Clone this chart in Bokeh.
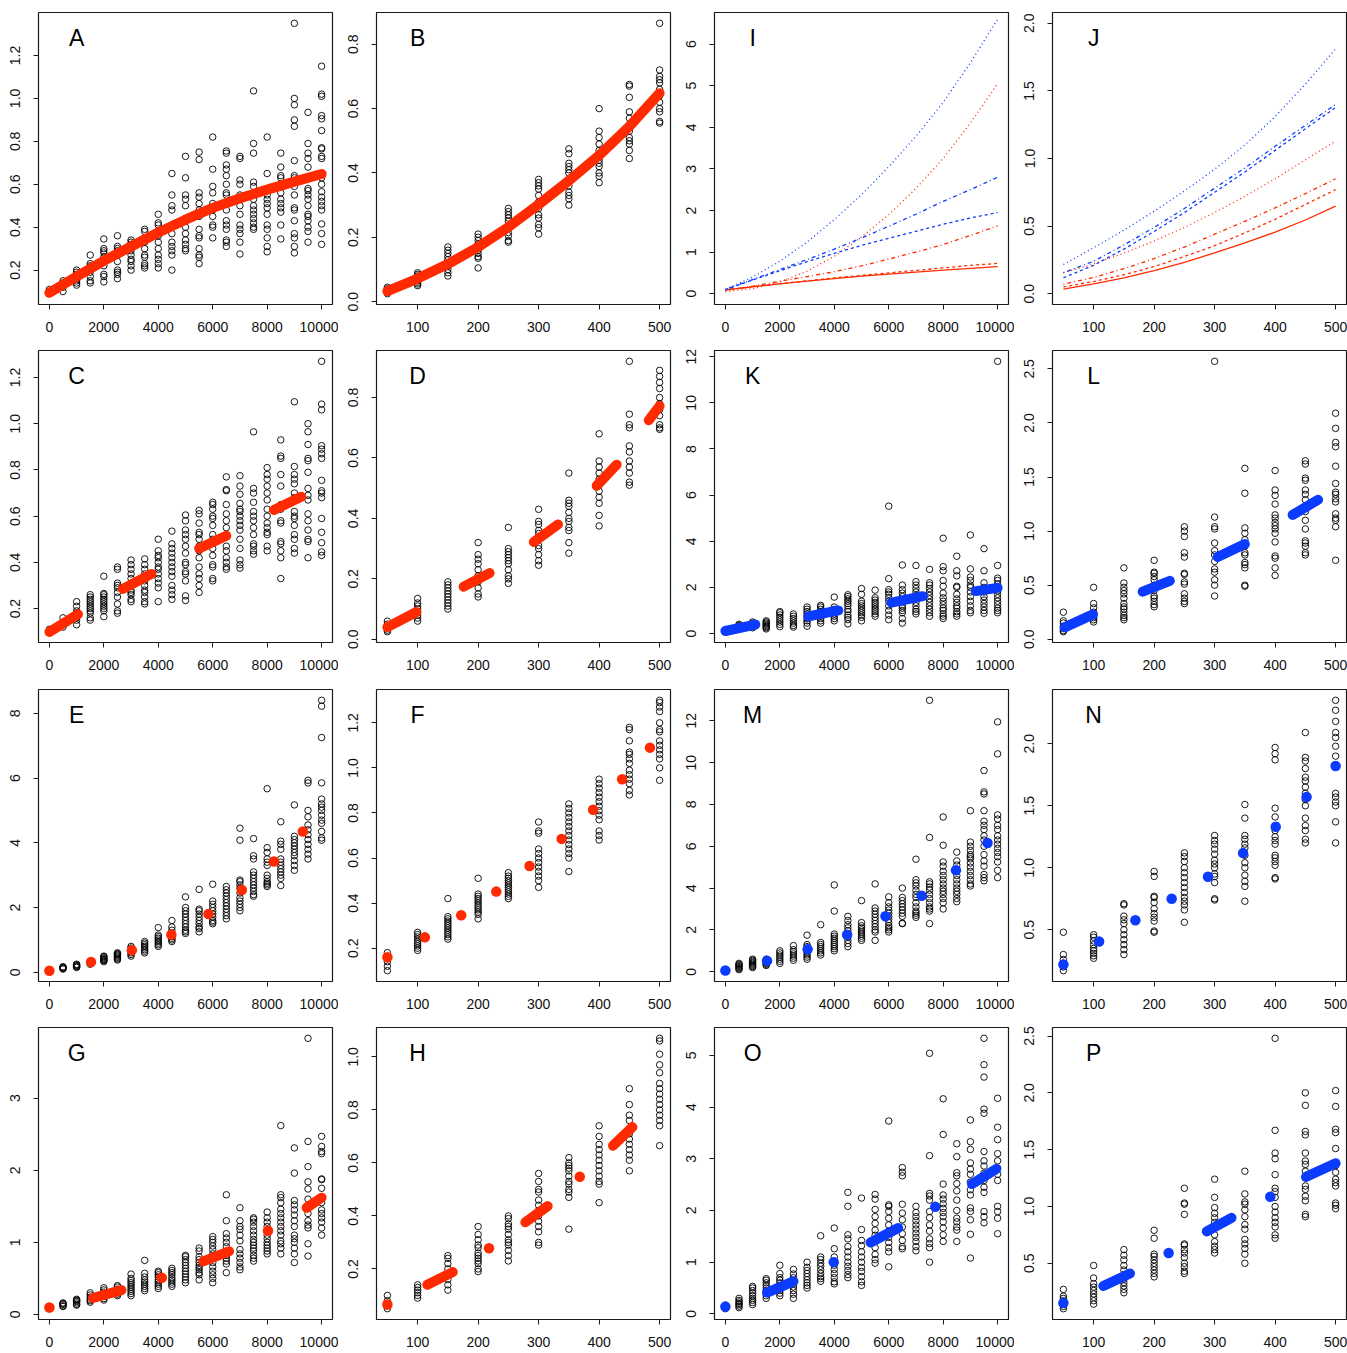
from bokeh.plotting import figure
from bokeh.layouts import gridplot
from bokeh.models import Label, FixedTicker, NumeralTickFormatter, Range1d
from bokeh.embed import file_html
from bokeh.resources import INLINE

FONT = "Liberation Sans"
RED = "#FF2A00"
BLUE = "#0B3BFF"

# ---------------------------------------------------------------- x groups
X_LONG = [0, 500, 1000, 1500, 2000, 2500, 3000, 3500, 4000, 4500, 5000,
          5500, 6000, 6500, 7000, 7500, 8000, 8500, 9000, 9500, 10000]
X_SHORT = [50, 100, 150, 200, 250, 300, 350, 400, 450, 500]
XTICKS_LONG = [0, 2000, 4000, 6000, 8000, 10000]
XTICKS_SHORT = [100, 200, 300, 400, 500]

# ---------------------------------------------------------------- panel A
A_PTS = [
    [0.09, 0.10, 0.11],
    [0.10, 0.12, 0.13, 0.14, 0.15],
    [0.13, 0.14, 0.15, 0.16, 0.17, 0.18, 0.19, 0.20],
    [0.14, 0.15, 0.17, 0.19, 0.21, 0.22, 0.23, 0.27],
    [0.145, 0.17, 0.18, 0.22, 0.24, 0.26, 0.28, 0.29, 0.30, 0.345],
    [0.16, 0.18, 0.19, 0.20, 0.24, 0.27, 0.29, 0.30, 0.31, 0.36],
    [0.20, 0.22, 0.24, 0.25, 0.27, 0.29, 0.30, 0.32, 0.33, 0.34],
    [0.21, 0.22, 0.23, 0.26, 0.27, 0.30, 0.33, 0.35, 0.38, 0.39],
    [0.21, 0.23, 0.25, 0.27, 0.30, 0.33, 0.36, 0.41, 0.42, 0.46],
    [0.20, 0.27, 0.29, 0.31, 0.33, 0.37, 0.40, 0.41, 0.48, 0.50, 0.55, 0.65],
    [0.29, 0.30, 0.32, 0.34, 0.37, 0.40, 0.44, 0.50, 0.53, 0.55, 0.63, 0.73],
    [0.23, 0.26, 0.27, 0.30, 0.35, 0.36, 0.39, 0.45, 0.48, 0.51, 0.54, 0.56, 0.715, 0.75],
    [0.35, 0.40, 0.41, 0.45, 0.48, 0.51, 0.56, 0.59, 0.67, 0.82],
    [0.31, 0.33, 0.34, 0.39, 0.41, 0.43, 0.48, 0.51, 0.55, 0.56, 0.60, 0.64, 0.67, 0.69, 0.745, 0.755],
    [0.275, 0.33, 0.37, 0.39, 0.41, 0.46, 0.50, 0.54, 0.55, 0.60, 0.62, 0.72, 0.73],
    [0.39, 0.40, 0.42, 0.44, 0.46, 0.48, 0.50, 0.53, 0.56, 0.59, 0.61, 0.745, 0.79, 1.035],
    [0.285, 0.31, 0.35, 0.39, 0.41, 0.46, 0.49, 0.51, 0.53, 0.55, 0.65, 0.82],
    [0.345, 0.41, 0.47, 0.49, 0.51, 0.53, 0.56, 0.60, 0.63, 0.64, 0.68, 0.745],
    [0.28, 0.31, 0.35, 0.37, 0.43, 0.48, 0.49, 0.55, 0.59, 0.63, 0.64, 0.71, 0.87, 0.90, 0.97, 1.0, 1.35],
    [0.33, 0.38, 0.40, 0.43, 0.45, 0.46, 0.50, 0.53, 0.55, 0.57, 0.58, 0.63, 0.68, 0.72, 0.745, 0.79, 0.935],
    [0.32, 0.37, 0.415, 0.48, 0.50, 0.52, 0.54, 0.565, 0.60, 0.63, 0.72, 0.73, 0.765, 0.77, 0.85, 0.905, 0.92, 1.01, 1.02, 1.15],
]
A_FIT_X = [0, 1000, 2000, 3000, 4000, 5000, 6000, 7000, 8000, 9000, 10000]
A_FIT_Y = [0.094, 0.170, 0.243, 0.310, 0.375, 0.435, 0.490, 0.535, 0.575, 0.612, 0.648]
A_YTICKS = [0.2, 0.4, 0.6, 0.8, 1.0, 1.2]

# ---------------------------------------------------------------- panel B
B_PTS = [
    [0.025, 0.03, 0.035, 0.04, 0.045],
    [0.05, 0.055, 0.06, 0.065, 0.07, 0.075, 0.08, 0.085, 0.09],
    [0.08, 0.09, 0.10, 0.11, 0.12, 0.13, 0.14, 0.15, 0.16, 0.17],
    [0.105, 0.135, 0.14, 0.15, 0.16, 0.17, 0.18, 0.19, 0.20, 0.21],
    [0.185, 0.19, 0.205, 0.215, 0.23, 0.25, 0.26, 0.27, 0.28, 0.29],
    [0.21, 0.23, 0.24, 0.26, 0.27, 0.29, 0.31, 0.33, 0.35, 0.36, 0.37, 0.38],
    [0.30, 0.32, 0.33, 0.34, 0.36, 0.38, 0.40, 0.41, 0.42, 0.43, 0.46, 0.475],
    [0.37, 0.39, 0.40, 0.42, 0.43, 0.44, 0.45, 0.47, 0.49, 0.51, 0.53, 0.60],
    [0.445, 0.47, 0.49, 0.50, 0.51, 0.53, 0.55, 0.57, 0.59, 0.635, 0.67, 0.675],
    [0.555, 0.56, 0.59, 0.60, 0.62, 0.64, 0.66, 0.68, 0.69, 0.70, 0.72, 0.865],
]
B_FIT_X = [50, 100, 150, 200, 250, 300, 350, 400, 450, 500]
B_FIT_Y = [0.033, 0.072, 0.117, 0.170, 0.232, 0.302, 0.376, 0.455, 0.545, 0.648]
B_YTICKS = [0.0, 0.2, 0.4, 0.6, 0.8]

# ---------------------------------------------------------------- panel C
C_PTS = [
    [0.10, 0.11],
    [0.12, 0.14, 0.16],
    [0.13, 0.15, 0.16, 0.18, 0.19, 0.21, 0.23],
    [0.15, 0.16, 0.18, 0.19, 0.20, 0.21, 0.22, 0.23, 0.24, 0.25, 0.26],
    [0.165, 0.19, 0.20, 0.21, 0.22, 0.23, 0.24, 0.25, 0.26, 0.265, 0.34],
    [0.18, 0.19, 0.22, 0.25, 0.27, 0.29, 0.30, 0.31, 0.37, 0.38],
    [0.23, 0.24, 0.26, 0.27, 0.28, 0.30, 0.31, 0.33, 0.35, 0.37, 0.39, 0.41],
    [0.22, 0.23, 0.25, 0.27, 0.28, 0.30, 0.32, 0.33, 0.35, 0.37, 0.39, 0.415],
    [0.23, 0.29, 0.31, 0.33, 0.35, 0.37, 0.38, 0.40, 0.42, 0.43, 0.45, 0.50],
    [0.24, 0.26, 0.28, 0.30, 0.34, 0.36, 0.38, 0.40, 0.42, 0.44, 0.46, 0.48, 0.535],
    [0.235, 0.255, 0.32, 0.35, 0.36, 0.39, 0.40, 0.44, 0.47, 0.50, 0.52, 0.54, 0.58, 0.605],
    [0.27, 0.30, 0.33, 0.35, 0.38, 0.42, 0.45, 0.47, 0.50, 0.52, 0.53, 0.57, 0.61, 0.625],
    [0.32, 0.33, 0.38, 0.39, 0.43, 0.46, 0.50, 0.52, 0.56, 0.59, 0.60, 0.63, 0.65, 0.66],
    [0.37, 0.38, 0.40, 0.42, 0.45, 0.47, 0.51, 0.55, 0.58, 0.61, 0.65, 0.71, 0.715, 0.77],
    [0.375, 0.39, 0.41, 0.46, 0.50, 0.54, 0.56, 0.58, 0.60, 0.62, 0.63, 0.655, 0.695, 0.73, 0.775],
    [0.435, 0.45, 0.47, 0.48, 0.52, 0.55, 0.58, 0.60, 0.62, 0.66, 0.70, 0.72, 0.965],
    [0.45, 0.47, 0.52, 0.53, 0.55, 0.57, 0.60, 0.63, 0.67, 0.70, 0.73, 0.76, 0.78, 0.81],
    [0.33, 0.42, 0.45, 0.48, 0.49, 0.57, 0.58, 0.63, 0.65, 0.73, 0.78, 0.85, 0.86, 0.93],
    [0.44, 0.46, 0.50, 0.52, 0.56, 0.59, 0.60, 0.62, 0.68, 0.70, 0.74, 0.76, 0.78, 0.815, 1.095],
    [0.42, 0.49, 0.50, 0.54, 0.58, 0.61, 0.67, 0.69, 0.72, 0.79, 0.84, 0.85, 0.91, 0.965, 1.0],
    [0.43, 0.445, 0.485, 0.53, 0.59, 0.68, 0.70, 0.71, 0.755, 0.85, 0.87, 0.89, 0.905, 1.06, 1.085, 1.27],
]
C_SEGS = [(0, 1050, 0.099, 0.175), (2700, 3750, 0.285, 0.350),
          (5500, 6500, 0.460, 0.515), (8250, 9250, 0.627, 0.684)]
C_YTICKS = [0.2, 0.4, 0.6, 0.8, 1.0, 1.2]

# ---------------------------------------------------------------- panel D
D_PTS = [
    [0.025, 0.03, 0.04, 0.05, 0.06],
    [0.06, 0.07, 0.08, 0.09, 0.10, 0.11, 0.12, 0.135],
    [0.10, 0.11, 0.12, 0.13, 0.14, 0.15, 0.16, 0.17, 0.18, 0.19],
    [0.14, 0.15, 0.17, 0.19, 0.21, 0.23, 0.25, 0.265, 0.28, 0.32],
    [0.185, 0.20, 0.21, 0.23, 0.25, 0.26, 0.27, 0.28, 0.29, 0.30, 0.37],
    [0.245, 0.26, 0.28, 0.30, 0.31, 0.33, 0.35, 0.36, 0.38, 0.39, 0.43],
    [0.285, 0.32, 0.36, 0.37, 0.39, 0.40, 0.42, 0.44, 0.45, 0.46, 0.55],
    [0.375, 0.41, 0.45, 0.47, 0.49, 0.51, 0.53, 0.55, 0.57, 0.59, 0.68],
    [0.51, 0.52, 0.55, 0.57, 0.59, 0.62, 0.64, 0.70, 0.71, 0.745, 0.92],
    [0.695, 0.70, 0.71, 0.74, 0.76, 0.78, 0.80, 0.83, 0.85, 0.87, 0.89],
]
D_SEGS = [(50, 98, 0.040, 0.090), (176, 219, 0.174, 0.219),
          (292, 332, 0.322, 0.380), (396, 429, 0.508, 0.578), (482, 500, 0.725, 0.772)]
D_YTICKS = [0.0, 0.2, 0.4, 0.6, 0.8]

# ---------------------------------------------------------------- panel E
E_PTS = [
    [0.05, 0.07],
    [0.10, 0.12, 0.14, 0.16, 0.17],
    [0.15, 0.17, 0.19, 0.21, 0.23, 0.25],
    [0.25, 0.28, 0.30, 0.33],
    [0.33, 0.36, 0.38, 0.40, 0.42, 0.45, 0.48, 0.50],
    [0.38, 0.41, 0.44, 0.47, 0.50, 0.53, 0.55, 0.58, 0.60],
    [0.50, 0.55, 0.60, 0.65, 0.70, 0.75, 0.80],
    [0.60, 0.65, 0.70, 0.75, 0.80, 0.85, 0.90, 0.95],
    [0.80, 0.85, 0.90, 0.95, 1.00, 1.05, 1.10, 1.15, 1.38],
    [0.95, 1.00, 1.05, 1.10, 1.20, 1.30, 1.40, 1.60],
    [1.20, 1.25, 1.30, 1.40, 1.50, 1.60, 1.70, 1.80, 1.90, 2.00, 2.33],
    [1.25, 1.35, 1.40, 1.50, 1.60, 1.70, 1.80, 1.90, 1.95, 2.56],
    [1.50, 1.55, 1.60, 1.70, 1.80, 1.90, 2.00, 2.10, 2.20, 2.72],
    [1.65, 1.75, 1.85, 1.95, 2.05, 2.15, 2.25, 2.35, 2.45, 2.55, 2.65],
    [1.90, 2.00, 2.10, 2.20, 2.30, 2.45, 2.60, 2.70, 2.80, 2.85, 4.08, 4.45],
    [2.35, 2.40, 2.50, 2.60, 2.70, 2.80, 2.90, 3.00, 3.10, 3.50, 3.60, 4.13],
    [2.65, 2.70, 2.75, 2.80, 2.90, 3.00, 3.30, 3.40, 3.50, 3.70, 3.85, 5.67],
    [2.68, 2.90, 3.00, 3.10, 3.20, 3.30, 3.40, 3.50, 3.80, 3.95, 4.05, 4.65],
    [3.15, 3.30, 3.45, 3.60, 3.70, 3.80, 3.90, 4.00, 4.10, 4.20, 5.17],
    [3.50, 3.65, 3.80, 3.95, 4.10, 4.25, 4.40, 4.55, 4.80, 5.00, 5.85, 5.93],
    [4.08, 4.15, 4.35, 4.60, 4.70, 4.85, 5.00, 5.10, 5.20, 5.35, 5.85, 7.25, 8.22, 8.40],
]
E_DOTS_X = [0, 1530, 3030, 4480, 5840, 7070, 8250, 9310]
E_DOTS_Y = [0.05, 0.32, 0.68, 1.16, 1.80, 2.54, 3.42, 4.35]
E_YTICKS = [0, 2, 4, 6, 8]

# ---------------------------------------------------------------- panel F
F_PTS = [
    [0.10, 0.12, 0.14, 0.16, 0.18],
    [0.19, 0.20, 0.21, 0.22, 0.23, 0.24, 0.25, 0.26, 0.27],
    [0.24, 0.25, 0.26, 0.27, 0.28, 0.29, 0.30, 0.31, 0.32, 0.33, 0.34, 0.42],
    [0.33, 0.35, 0.36, 0.37, 0.38, 0.39, 0.40, 0.41, 0.42, 0.43, 0.44, 0.51],
    [0.42, 0.43, 0.44, 0.45, 0.46, 0.47, 0.48, 0.49, 0.50, 0.51, 0.52, 0.535],
    [0.47, 0.50, 0.52, 0.54, 0.56, 0.58, 0.60, 0.62, 0.64, 0.71, 0.72, 0.76],
    [0.54, 0.60, 0.62, 0.64, 0.66, 0.68, 0.70, 0.72, 0.74, 0.76, 0.78, 0.80, 0.82, 0.84],
    [0.68, 0.70, 0.72, 0.77, 0.79, 0.81, 0.83, 0.85, 0.87, 0.89, 0.91, 0.93, 0.95],
    [0.88, 0.90, 0.93, 0.95, 0.97, 0.99, 1.02, 1.04, 1.06, 1.07, 1.12, 1.17, 1.18],
    [0.945, 1.00, 1.04, 1.06, 1.08, 1.10, 1.12, 1.16, 1.17, 1.20, 1.25, 1.27, 1.29, 1.30],
]
F_DOTS_X = [50, 112, 172, 230, 285, 338, 390, 438, 484]
F_DOTS_Y = [0.160, 0.248, 0.346, 0.451, 0.565, 0.685, 0.814, 0.950, 1.090]
F_YTICKS = [0.2, 0.4, 0.6, 0.8, 1.0, 1.2]

# ---------------------------------------------------------------- panel G
G_PTS = [
    [0.08, 0.10, 0.11],
    [0.11, 0.12, 0.14, 0.15, 0.16],
    [0.13, 0.14, 0.16, 0.18, 0.19, 0.20, 0.21],
    [0.17, 0.19, 0.21, 0.24, 0.27, 0.30],
    [0.20, 0.22, 0.25, 0.28, 0.31, 0.34, 0.37],
    [0.26, 0.28, 0.30, 0.32, 0.35, 0.38, 0.40],
    [0.26, 0.29, 0.32, 0.35, 0.38, 0.41, 0.44, 0.47, 0.50, 0.56],
    [0.33, 0.36, 0.39, 0.42, 0.45, 0.48, 0.52, 0.57, 0.75],
    [0.36, 0.39, 0.42, 0.45, 0.48, 0.52, 0.55, 0.58, 0.60],
    [0.39, 0.42, 0.45, 0.48, 0.51, 0.55, 0.58, 0.61, 0.64],
    [0.44, 0.48, 0.52, 0.56, 0.60, 0.64, 0.68, 0.72, 0.76, 0.80, 0.82],
    [0.48, 0.55, 0.58, 0.62, 0.65, 0.68, 0.72, 0.76, 0.80, 0.88, 0.92],
    [0.44, 0.50, 0.55, 0.60, 0.66, 0.72, 0.78, 0.84, 0.90, 0.95, 1.00, 1.04, 1.08],
    [0.58, 0.70, 0.74, 0.78, 0.82, 0.88, 0.94, 1.00, 1.06, 1.12, 1.30, 1.66],
    [0.62, 0.66, 0.72, 0.78, 0.84, 0.90, 1.02, 1.10, 1.18, 1.22, 1.30, 1.48],
    [0.74, 0.78, 0.82, 0.88, 0.92, 0.96, 1.00, 1.04, 1.10, 1.16, 1.22, 1.28, 1.32, 1.34],
    [0.84, 0.88, 0.92, 0.96, 1.00, 1.05, 1.10, 1.16, 1.22, 1.28, 1.34, 1.42],
    [0.84, 0.92, 0.98, 1.02, 1.10, 1.16, 1.22, 1.28, 1.34, 1.40, 1.46, 1.55, 1.62, 1.66, 2.62],
    [0.72, 0.84, 0.92, 1.00, 1.05, 1.10, 1.22, 1.30, 1.38, 1.45, 1.52, 1.58, 1.96, 2.31],
    [0.81, 0.98, 1.20, 1.24, 1.30, 1.40, 1.50, 1.60, 1.74, 1.84, 2.05, 2.40, 3.83],
    [1.10, 1.20, 1.28, 1.34, 1.40, 1.45, 1.55, 1.62, 1.75, 1.87, 1.88, 2.23, 2.26, 2.33, 2.47],
]
G_DOTS_X = [0, 4130, 8030]
G_DOTS_Y = [0.096, 0.51, 1.16]
G_SEGS = [(1600, 2650, 0.228, 0.338), (5650, 6600, 0.735, 0.875), (9450, 10000, 1.48, 1.62)]
G_YTICKS = [0, 1, 2, 3]

# ---------------------------------------------------------------- panel H
H_PTS = [
    [0.05, 0.06, 0.07, 0.08, 0.10],
    [0.09, 0.10, 0.11, 0.12, 0.13, 0.14],
    [0.12, 0.14, 0.16, 0.18, 0.20, 0.22, 0.24, 0.25],
    [0.19, 0.20, 0.22, 0.23, 0.24, 0.25, 0.26, 0.28, 0.29, 0.31, 0.33, 0.36],
    [0.23, 0.25, 0.27, 0.29, 0.30, 0.31, 0.33, 0.35, 0.36, 0.37, 0.39, 0.40],
    [0.29, 0.30, 0.34, 0.36, 0.38, 0.40, 0.42, 0.44, 0.46, 0.49, 0.50, 0.53, 0.56],
    [0.35, 0.47, 0.49, 0.50, 0.52, 0.53, 0.55, 0.57, 0.58, 0.59, 0.60, 0.62],
    [0.45, 0.52, 0.53, 0.55, 0.57, 0.59, 0.61, 0.63, 0.65, 0.67, 0.70, 0.74],
    [0.57, 0.61, 0.63, 0.65, 0.67, 0.69, 0.71, 0.73, 0.76, 0.78, 0.82, 0.88],
    [0.665, 0.74, 0.76, 0.78, 0.80, 0.82, 0.84, 0.86, 0.88, 0.90, 0.94, 0.97, 1.01, 1.06, 1.07],
]
H_DOTS_X = [50, 218, 368]
H_DOTS_Y = [0.066, 0.278, 0.548]
H_SEGS = [(116, 158, 0.140, 0.188), (278, 315, 0.376, 0.437), (423, 455, 0.665, 0.735)]
H_YTICKS = [0.2, 0.4, 0.6, 0.8, 1.0]

# ---------------------------------------------------------------- panel I
I_X = [0, 1000, 2000, 3000, 4000, 5000, 6000, 7000, 8000, 9000, 10000]
I_RED_SOLID = [0.09, 0.165, 0.235, 0.30, 0.36, 0.42, 0.47, 0.52, 0.565, 0.61, 0.65]
I_RED_DASHED = [0.09, 0.17, 0.24, 0.31, 0.38, 0.44, 0.50, 0.56, 0.62, 0.68, 0.73]
I_RED_DOTDASH = [0.08, 0.18, 0.30, 0.41, 0.53, 0.67, 0.83, 1.00, 1.18, 1.40, 1.63]
I_RED_DOTTED = [0.05, 0.12, 0.28, 0.54, 0.90, 1.36, 1.90, 2.53, 3.25, 4.10, 5.05]
I_BLUE_DASHED = [0.10, 0.33, 0.55, 0.77, 0.97, 1.16, 1.33, 1.50, 1.67, 1.82, 1.95]
I_BLUE_DOTDASH = [0.10, 0.34, 0.58, 0.82, 1.07, 1.34, 1.62, 1.91, 2.22, 2.50, 2.80]
I_BLUE_DOTTED = [0.10, 0.40, 0.78, 1.24, 1.78, 2.38, 3.05, 3.78, 4.60, 5.55, 6.60]
I_YLIM = (0, 6.5)
I_YTICKS = [0, 1, 2, 3, 4, 5, 6]

# ---------------------------------------------------------------- panel J
J_X = [50, 100, 150, 200, 250, 300, 350, 400, 450, 500]
J_RED_SOLID = [0.033, 0.072, 0.117, 0.170, 0.232, 0.302, 0.376, 0.455, 0.545, 0.648]
J_RED_DASHED = [0.05, 0.09, 0.14, 0.20, 0.275, 0.355, 0.45, 0.55, 0.66, 0.77]
J_RED_DOTDASH = [0.07, 0.12, 0.185, 0.26, 0.345, 0.44, 0.535, 0.635, 0.74, 0.85]
J_RED_DOTTED = [0.155, 0.22, 0.30, 0.39, 0.49, 0.60, 0.72, 0.85, 0.99, 1.13]
J_BLUE_DASHED = [0.118, 0.21, 0.33, 0.46, 0.60, 0.75, 0.90, 1.06, 1.22, 1.377]
J_BLUE_DOTDASH = [0.155, 0.24, 0.36, 0.49, 0.63, 0.78, 0.93, 1.09, 1.245, 1.40]
J_BLUE_DOTTED = [0.216, 0.34, 0.47, 0.61, 0.76, 0.92, 1.10, 1.31, 1.55, 1.81]
J_YLIM = (0, 2.0)
J_YTICKS = [0.0, 0.5, 1.0, 1.5, 2.0]

# ---------------------------------------------------------------- panel K
K_PTS = [
    [0.08, 0.11, 0.14],
    [0.20, 0.25, 0.30, 0.35, 0.40],
    [0.25, 0.30, 0.35, 0.40, 0.45, 0.50],
    [0.20, 0.25, 0.30, 0.35, 0.40, 0.45, 0.50, 0.55],
    [0.30, 0.40, 0.50, 0.60, 0.70, 0.80, 0.90, 0.95],
    [0.28, 0.35, 0.45, 0.55, 0.65, 0.75, 0.85],
    [0.32, 0.45, 0.55, 0.65, 0.75, 0.85, 0.95, 1.05, 1.15],
    [0.45, 0.55, 0.65, 0.75, 0.85, 0.95, 1.05, 1.15, 1.22],
    [0.55, 0.65, 0.75, 0.85, 0.95, 1.05, 1.15, 1.58],
    [0.42, 0.60, 0.70, 0.80, 0.95, 1.05, 1.20, 1.30, 1.40, 1.50, 1.60, 1.68],
    [0.55, 0.70, 0.80, 0.90, 1.00, 1.10, 1.20, 1.30, 1.40, 1.70, 1.95],
    [0.75, 0.85, 0.95, 1.05, 1.15, 1.25, 1.35, 1.45, 1.55, 1.88],
    [0.60, 0.80, 1.00, 1.20, 1.40, 1.55, 1.70, 1.80, 1.90, 2.38, 5.52],
    [0.45, 0.65, 0.90, 1.00, 1.10, 1.20, 1.40, 1.60, 1.75, 1.90, 2.10, 2.97],
    [0.85, 0.95, 1.05, 1.20, 1.35, 1.50, 1.65, 1.80, 1.95, 2.10, 2.25, 2.95],
    [0.75, 0.90, 1.05, 1.20, 1.35, 1.50, 1.65, 1.80, 1.95, 2.10, 2.20, 2.78],
    [0.65, 0.75, 0.85, 1.00, 1.10, 1.25, 1.40, 1.55, 1.75, 2.05, 2.30, 2.72, 2.90, 4.13],
    [0.75, 0.85, 0.95, 1.10, 1.20, 1.35, 1.50, 1.70, 2.00, 2.05, 2.50, 2.72, 3.35],
    [0.90, 1.00, 1.20, 1.40, 1.60, 1.80, 2.00, 2.10, 2.30, 2.45, 2.80, 4.27],
    [0.88, 1.00, 1.15, 1.30, 1.45, 1.60, 1.80, 2.00, 2.20, 2.72, 3.68],
    [0.90, 1.00, 1.10, 1.25, 1.40, 1.55, 1.70, 1.85, 2.00, 2.15, 2.30, 2.40, 2.95, 11.8],
]
K_SEGS = [(0, 1100, 0.11, 0.39), (3050, 4150, 0.74, 1.00),
          (6100, 7250, 1.34, 1.62), (9200, 10000, 1.84, 1.98)]
K_YTICKS = [0, 2, 4, 6, 8, 10, 12]

# ---------------------------------------------------------------- panel L
L_PTS = [
    [0.07, 0.08, 0.10, 0.12, 0.15, 0.17, 0.25],
    [0.16, 0.18, 0.20, 0.22, 0.25, 0.29, 0.33, 0.48],
    [0.18, 0.20, 0.22, 0.25, 0.28, 0.30, 0.33, 0.38, 0.42, 0.45, 0.48, 0.52, 0.66],
    [0.30, 0.32, 0.35, 0.38, 0.40, 0.45, 0.50, 0.55, 0.58, 0.61, 0.62, 0.73],
    [0.33, 0.35, 0.38, 0.42, 0.51, 0.53, 0.60, 0.61, 0.76, 0.80, 0.95, 1.00, 1.04],
    [0.40, 0.50, 0.55, 0.62, 0.65, 0.72, 0.78, 0.82, 0.89, 1.02, 1.04, 1.13, 2.57],
    [0.49, 0.50, 0.66, 0.69, 0.71, 0.78, 0.80, 0.86, 0.92, 0.98, 1.03, 1.35, 1.58],
    [0.59, 0.66, 0.75, 0.77, 0.90, 0.98, 1.02, 1.05, 1.08, 1.12, 1.15, 1.25, 1.33, 1.38, 1.56],
    [0.78, 0.80, 0.86, 0.89, 0.91, 1.02, 1.10, 1.18, 1.22, 1.29, 1.34, 1.38, 1.47, 1.49, 1.62, 1.65],
    [0.73, 1.04, 1.10, 1.12, 1.16, 1.27, 1.30, 1.34, 1.36, 1.44, 1.60, 1.78, 1.82, 1.95, 2.09],
]
L_SEGS = [(52, 99, 0.11, 0.23), (181, 226, 0.44, 0.54),
          (305, 350, 0.76, 0.88), (429, 471, 1.15, 1.29)]
L_YTICKS = [0.0, 0.5, 1.0, 1.5, 2.0, 2.5]

# ---------------------------------------------------------------- panel M
M_PTS = [
    [0.05, 0.08],
    [0.10, 0.15, 0.20, 0.25, 0.30, 0.35, 0.40],
    [0.20, 0.25, 0.30, 0.35, 0.40, 0.45, 0.50, 0.55, 0.60],
    [0.30, 0.35, 0.40, 0.45, 0.55, 0.60],
    [0.40, 0.50, 0.60, 0.70, 0.80, 0.90, 1.00],
    [0.55, 0.65, 0.75, 0.85, 0.95, 1.05, 1.25],
    [0.60, 0.70, 0.80, 0.90, 1.00, 1.10, 1.20, 1.30, 1.75],
    [0.80, 0.90, 1.00, 1.10, 1.20, 1.30, 1.40, 2.25],
    [1.00, 1.10, 1.20, 1.30, 1.40, 1.50, 1.60, 1.70, 1.80, 2.90, 4.15],
    [1.20, 1.35, 1.50, 1.65, 1.80, 1.95, 2.10, 2.25, 2.45, 2.65],
    [1.50, 1.60, 1.70, 1.80, 1.90, 2.00, 2.10, 2.20, 2.35, 3.40],
    [1.50, 1.90, 2.00, 2.15, 2.30, 2.45, 2.60, 2.75, 2.90, 3.05, 4.20],
    [1.90, 2.00, 2.10, 2.20, 2.35, 2.50, 2.65, 2.80, 2.95, 3.10, 3.30, 3.58],
    [2.30, 2.32, 2.65, 2.80, 2.95, 3.10, 3.25, 3.40, 3.55, 4.00],
    [2.60, 2.70, 2.80, 2.90, 3.10, 3.30, 3.55, 3.70, 3.90, 4.10, 4.25, 4.40, 5.38],
    [2.30, 2.90, 3.00, 3.10, 3.30, 3.50, 3.70, 3.90, 4.05, 4.20, 4.30, 6.42, 12.98],
    [3.00, 3.30, 3.50, 3.70, 3.85, 4.00, 4.20, 4.40, 4.60, 4.80, 5.05, 5.25, 6.05, 7.40],
    [3.35, 3.50, 3.70, 3.85, 4.00, 4.20, 4.40, 4.60, 4.80, 5.10, 5.30, 5.72],
    [4.10, 4.20, 4.40, 4.60, 4.80, 5.00, 5.20, 5.40, 5.50, 5.60, 5.80, 6.00, 6.20, 7.70],
    [4.35, 4.50, 4.65, 5.05, 5.30, 5.60, 6.00, 6.30, 6.50, 6.80, 7.00, 7.20, 7.70, 8.50, 8.60, 9.62],
    [4.50, 4.85, 5.25, 5.50, 5.70, 5.90, 6.10, 6.30, 6.50, 6.80, 7.00, 7.30, 7.50, 10.42, 11.95],
]
M_DOTS_X = [0, 1530, 3020, 4470, 5880, 7210, 8470, 9630]
M_DOTS_Y = [0.06, 0.52, 1.07, 1.77, 2.65, 3.63, 4.85, 6.16]
M_YTICKS = [0, 2, 4, 6, 8, 10, 12]

# ---------------------------------------------------------------- panel N
N_PTS = [
    [0.17, 0.20, 0.23, 0.26, 0.30, 0.48],
    [0.27, 0.29, 0.31, 0.33, 0.35, 0.38, 0.41, 0.44, 0.46],
    [0.30, 0.34, 0.38, 0.42, 0.46, 0.50, 0.55, 0.58, 0.61, 0.70, 0.71],
    [0.48, 0.49, 0.57, 0.60, 0.63, 0.67, 0.72, 0.76, 0.77, 0.93, 0.97],
    [0.56, 0.66, 0.70, 0.73, 0.76, 0.80, 0.84, 0.88, 0.92, 0.96, 1.00, 1.05, 1.09, 1.12],
    [0.74, 0.75, 0.88, 0.93, 0.95, 1.00, 1.03, 1.06, 1.11, 1.15, 1.19, 1.22, 1.26],
    [0.73, 0.85, 0.89, 0.94, 1.00, 1.04, 1.10, 1.16, 1.19, 1.23, 1.26, 1.40, 1.51],
    [0.91, 0.92, 1.02, 1.05, 1.08, 1.10, 1.19, 1.22, 1.25, 1.30, 1.41, 1.48, 1.87, 1.92, 1.97],
    [1.20, 1.23, 1.30, 1.34, 1.40, 1.50, 1.55, 1.60, 1.65, 1.70, 1.73, 1.80, 1.86, 1.89, 2.09],
    [1.20, 1.37, 1.50, 1.53, 1.57, 1.60, 1.83, 1.90, 1.98, 2.05, 2.09, 2.18, 2.27, 2.35],
]
N_DOTS_X = [50, 109, 169, 229, 289, 347, 401, 452, 500]
N_DOTS_Y = [0.22, 0.406, 0.576, 0.75, 0.927, 1.118, 1.33, 1.57, 1.82]
N_YTICKS = [0.5, 1.0, 1.5, 2.0]

# ---------------------------------------------------------------- panel O
O_PTS = [
    [0.10, 0.13, 0.16],
    [0.12, 0.15, 0.18, 0.20, 0.23, 0.26, 0.30],
    [0.18, 0.22, 0.26, 0.30, 0.35, 0.40, 0.45, 0.50, 0.53],
    [0.30, 0.35, 0.40, 0.45, 0.50, 0.55, 0.60, 0.65, 0.68],
    [0.35, 0.40, 0.45, 0.50, 0.55, 0.60, 0.65, 0.70, 0.78, 0.94],
    [0.30, 0.38, 0.45, 0.52, 0.58, 0.64, 0.70, 0.77, 0.86],
    [0.50, 0.55, 0.60, 0.66, 0.72, 0.78, 0.84, 0.90, 1.00],
    [0.63, 0.68, 0.72, 0.78, 0.85, 0.92, 0.98, 1.05, 1.10, 1.51],
    [0.58, 0.62, 0.70, 0.78, 0.86, 0.94, 1.02, 1.10, 1.26, 1.66],
    [0.70, 0.76, 0.84, 0.92, 1.00, 1.10, 1.20, 1.30, 1.45, 1.53, 2.08, 2.35],
    [0.55, 0.62, 0.72, 0.82, 0.90, 1.00, 1.10, 1.20, 1.32, 1.42, 1.63, 2.24],
    [0.98, 1.05, 1.15, 1.28, 1.40, 1.52, 1.62, 1.75, 1.88, 2.02, 2.22, 2.31],
    [0.91, 1.20, 1.28, 1.38, 1.48, 1.60, 1.72, 1.85, 1.98, 2.08, 2.11, 3.73],
    [1.26, 1.30, 1.42, 1.55, 1.68, 1.82, 1.95, 2.12, 2.67, 2.74, 2.83],
    [1.22, 1.30, 1.40, 1.48, 1.56, 1.64, 1.72, 1.80, 1.88, 1.96, 2.08],
    [1.00, 1.28, 1.36, 1.45, 1.60, 1.72, 1.86, 1.98, 2.20, 2.28, 2.33, 3.06, 5.04],
    [1.40, 1.53, 1.66, 1.78, 1.88, 1.96, 2.04, 2.13, 2.22, 2.30, 2.51, 3.47, 4.16],
    [1.40, 1.62, 1.68, 1.78, 1.85, 2.00, 2.20, 2.38, 2.52, 2.67, 2.73, 3.04, 3.29],
    [1.08, 1.54, 1.82, 1.98, 2.05, 2.30, 2.40, 2.55, 2.70, 2.80, 2.92, 3.18, 3.33, 3.75],
    [1.76, 1.88, 1.98, 2.35, 2.45, 2.58, 2.72, 2.86, 2.96, 3.14, 3.88, 3.96, 4.58, 4.82, 5.33],
    [1.55, 1.85, 1.98, 2.08, 2.58, 2.70, 2.82, 2.96, 3.10, 3.37, 3.61, 4.17],
]
O_DOTS_X = [0, 3980, 7710]
O_DOTS_Y = [0.14, 1.00, 2.07]
O_SEGS = [(1530, 2500, 0.41, 0.63), (5330, 6350, 1.38, 1.66), (9060, 9950, 2.51, 2.80)]
O_YTICKS = [0, 1, 2, 3, 4, 5]

# ---------------------------------------------------------------- panel P
P_PTS = [
    [0.10, 0.12, 0.14, 0.17, 0.19, 0.21, 0.27],
    [0.14, 0.17, 0.20, 0.23, 0.26, 0.29, 0.32, 0.37, 0.48],
    [0.24, 0.27, 0.30, 0.33, 0.36, 0.40, 0.44, 0.48, 0.53, 0.57, 0.62],
    [0.38, 0.41, 0.44, 0.47, 0.50, 0.53, 0.56, 0.58, 0.72, 0.79],
    [0.41, 0.43, 0.47, 0.50, 0.55, 0.59, 0.62, 0.66, 0.67, 0.93, 1.02, 1.03, 1.16],
    [0.59, 0.62, 0.65, 0.69, 0.75, 0.82, 0.86, 0.90, 0.94, 0.99, 1.08, 1.24],
    [0.50, 0.58, 0.63, 0.67, 0.71, 0.80, 0.84, 0.91, 0.97, 1.02, 1.04, 1.11, 1.31],
    [0.72, 0.75, 0.82, 0.86, 0.90, 0.95, 1.00, 1.08, 1.13, 1.16, 1.28, 1.42, 1.47, 1.67, 2.48],
    [0.91, 0.93, 1.05, 1.09, 1.15, 1.18, 1.25, 1.31, 1.37, 1.40, 1.47, 1.63, 1.66, 1.89, 2.00],
    [0.98, 1.01, 1.03, 1.18, 1.21, 1.24, 1.30, 1.36, 1.51, 1.65, 1.68, 1.88, 2.02],
]
P_DOTS_X = [50, 224, 392]
P_DOTS_Y = [0.15, 0.59, 1.085]
P_SEGS = [(116, 160, 0.30, 0.41), (287, 328, 0.78, 0.90), (451, 500, 1.26, 1.38)]
P_YTICKS = [0.5, 1.0, 1.5, 2.0, 2.5]

# ---------------------------------------------------------------- drawing
FRAME_W, FRAME_H = 294, 292
LEFT, TOP = 38, 12


def padded(lo, hi):
    d = hi - lo
    return lo - 0.04 * d, hi + 0.04 * d


def make_panel(letter, xs, xticks, yvals, yticks, yfmt, width, height, ylim=None):
    x0, x1 = padded(min(xs), max(xs))
    if ylim is None:
        ylim = (min(yvals), max(yvals))
    y0, y1 = padded(*ylim)
    p = figure(width=width, height=height,
               x_range=Range1d(x0, x1), y_range=Range1d(y0, y1),
               output_backend="svg", toolbar_location=None,
               min_border_left=LEFT, min_border_top=TOP,
               min_border_right=width - LEFT - FRAME_W,
               min_border_bottom=height - TOP - FRAME_H)
    p.xgrid.visible = False
    p.ygrid.visible = False
    p.outline_line_color = "#1a1a1a"
    p.outline_line_width = 1.2
    p.background_fill_color = "white"
    p.border_fill_color = "white"

    p.xaxis.ticker = FixedTicker(ticks=xticks, minor_ticks=[])
    p.yaxis.ticker = FixedTicker(ticks=yticks, minor_ticks=[])
    p.xaxis.formatter = NumeralTickFormatter(format="0")
    p.yaxis.formatter = NumeralTickFormatter(format=yfmt)
    for ax in (p.xaxis, p.yaxis):
        ax.axis_line_color = None
        ax.major_tick_in = 0
        ax.major_tick_out = 5
        ax.major_tick_line_color = "#1a1a1a"
        ax.major_tick_line_width = 1
        ax.minor_tick_line_color = None
        ax.major_label_text_font = FONT
        ax.major_label_text_font_size = "14px"
        ax.major_label_text_color = "#111111"
    p.xaxis.major_label_standoff = 12
    p.yaxis.major_label_standoff = 13
    p.yaxis.major_label_orientation = "parallel"

    lx = 1000 if max(xs) > 1000 else 100
    p.add_layout(Label(x=lx, y=y1 - 25.0 / FRAME_H * (y1 - y0), text=letter,
                       text_align="center", text_baseline="middle",
                       text_font=FONT, text_font_size="23px", text_color="black"))
    return p


def draw_points(p, xs, groups):
    px, py = [], []
    for x, g in zip(xs, groups):
        px.extend([x] * len(g))
        py.extend(g)
    p.scatter(px, py, marker="circle", size=6.5, fill_color=None,
              line_color="black", line_width=0.9)


def draw_segs(p, segs, color):
    for xa, xb, ya, yb in segs:
        p.line([xa, xb], [ya, yb], line_color=color, line_width=10, line_cap="round")


def draw_dots(p, dx, dy, color):
    p.scatter(dx, dy, marker="circle", size=10.5, fill_color=color, line_color=None)


def scatter_panel(letter, xs, xticks, groups, yticks, yfmt, w, h):
    flat = [v for g in groups for v in g]
    p = make_panel(letter, xs, xticks, flat, yticks, yfmt, w, h)
    draw_points(p, xs, groups)
    return p


def lines_panel(letter, xs, xticks, series, yticks, yfmt, w, h, ylim):
    flat = [v for s in series for v in s[0]]
    p = make_panel(letter, xs, xticks, flat, yticks, yfmt, w, h, ylim)
    for ys, color, dash in series:
        p.line(xs, ys, line_color=color, line_width=1.3, line_dash=dash, line_join="round")
    return p


W = [338, 338, 338, 333]
H = [338, 339, 338, 338]

pA = scatter_panel("A", X_LONG, XTICKS_LONG, A_PTS, A_YTICKS, "0.0", W[0], H[0])
pA.line(A_FIT_X, A_FIT_Y, line_color=RED, line_width=10, line_cap="round", line_join="round")

pB = scatter_panel("B", X_SHORT, XTICKS_SHORT, B_PTS, B_YTICKS, "0.0", W[1], H[0])
pB.line(B_FIT_X, B_FIT_Y, line_color=RED, line_width=10, line_cap="round", line_join="round")

pI = lines_panel("I", I_X, XTICKS_LONG, [
    (I_RED_SOLID, RED, "solid"), (I_RED_DASHED, RED, "3 3"),
    (I_RED_DOTDASH, RED, "1 3 4 3"), (I_RED_DOTTED, RED, "1 3"),
    (I_BLUE_DASHED, BLUE, "3 3"), (I_BLUE_DOTDASH, BLUE, "1 3 4 3"),
    (I_BLUE_DOTTED, BLUE, "1 3")], I_YTICKS, "0", W[2], H[0], I_YLIM)

pJ = lines_panel("J", J_X, XTICKS_SHORT, [
    (J_RED_SOLID, RED, "solid"), (J_RED_DASHED, RED, "3 3"),
    (J_RED_DOTDASH, RED, "1 3 4 3"), (J_RED_DOTTED, RED, "1 3"),
    (J_BLUE_DASHED, BLUE, "3 3"), (J_BLUE_DOTDASH, BLUE, "1 3 4 3"),
    (J_BLUE_DOTTED, BLUE, "1 3")], J_YTICKS, "0.0", W[3], H[0], J_YLIM)

pC = scatter_panel("C", X_LONG, XTICKS_LONG, C_PTS, C_YTICKS, "0.0", W[0], H[1])
draw_segs(pC, C_SEGS, RED)
pD = scatter_panel("D", X_SHORT, XTICKS_SHORT, D_PTS, D_YTICKS, "0.0", W[1], H[1])
draw_segs(pD, D_SEGS, RED)
pK = scatter_panel("K", X_LONG, XTICKS_LONG, K_PTS, K_YTICKS, "0", W[2], H[1])
draw_segs(pK, K_SEGS, BLUE)
pL = scatter_panel("L", X_SHORT, XTICKS_SHORT, L_PTS, L_YTICKS, "0.0", W[3], H[1])
draw_segs(pL, L_SEGS, BLUE)

pE = scatter_panel("E", X_LONG, XTICKS_LONG, E_PTS, E_YTICKS, "0", W[0], H[2])
draw_dots(pE, E_DOTS_X, E_DOTS_Y, RED)
pF = scatter_panel("F", X_SHORT, XTICKS_SHORT, F_PTS, F_YTICKS, "0.0", W[1], H[2])
draw_dots(pF, F_DOTS_X, F_DOTS_Y, RED)
pM = scatter_panel("M", X_LONG, XTICKS_LONG, M_PTS, M_YTICKS, "0", W[2], H[2])
draw_dots(pM, M_DOTS_X, M_DOTS_Y, BLUE)
pN = scatter_panel("N", X_SHORT, XTICKS_SHORT, N_PTS, N_YTICKS, "0.0", W[3], H[2])
draw_dots(pN, N_DOTS_X, N_DOTS_Y, BLUE)

pG = scatter_panel("G", X_LONG, XTICKS_LONG, G_PTS, G_YTICKS, "0", W[0], H[3])
draw_segs(pG, G_SEGS, RED)
draw_dots(pG, G_DOTS_X, G_DOTS_Y, RED)
pH = scatter_panel("H", X_SHORT, XTICKS_SHORT, H_PTS, H_YTICKS, "0.0", W[1], H[3])
draw_segs(pH, H_SEGS, RED)
draw_dots(pH, H_DOTS_X, H_DOTS_Y, RED)
pO = scatter_panel("O", X_LONG, XTICKS_LONG, O_PTS, O_YTICKS, "0", W[2], H[3])
draw_segs(pO, O_SEGS, BLUE)
draw_dots(pO, O_DOTS_X, O_DOTS_Y, BLUE)
pP = scatter_panel("P", X_SHORT, XTICKS_SHORT, P_PTS, P_YTICKS, "0.0", W[3], H[3])
draw_segs(pP, P_SEGS, BLUE)
draw_dots(pP, P_DOTS_X, P_DOTS_Y, BLUE)

grid = gridplot([[pA, pB, pI, pJ],
                 [pC, pD, pK, pL],
                 [pE, pF, pM, pN],
                 [pG, pH, pO, pP]], toolbar_location=None)

open("out.html", "w").write(file_html(grid, INLINE))
